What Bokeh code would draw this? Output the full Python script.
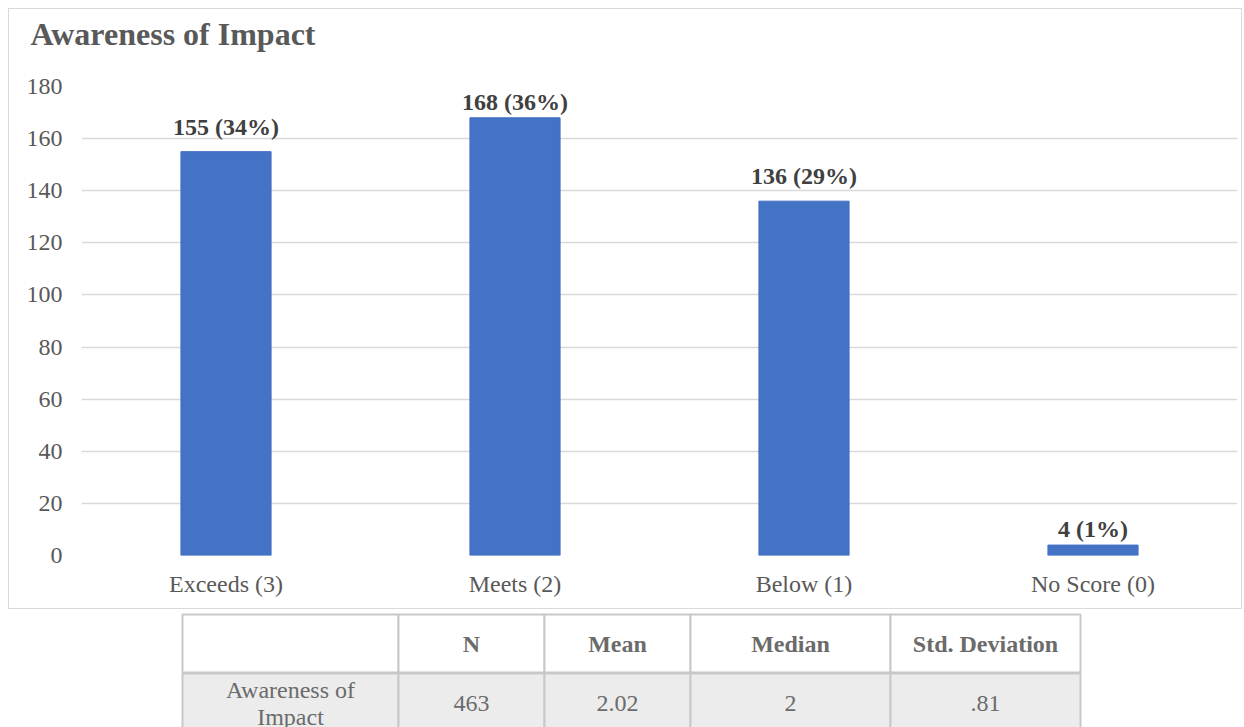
from bokeh.plotting import figure
from bokeh.layouts import column
from bokeh.models import Range1d, FactorRange, FixedTicker, ColumnDataSource, Title
from bokeh.core.properties import value
from bokeh.embed import file_html
from bokeh.resources import INLINE

# --- data -------------------------------------------------------------
categories = ["Exceeds (3)", "Meets (2)", "Below (1)", "No Score (0)"]
counts = [155, 168, 136, 4]
percents = [34, 36, 29, 1]
y_ticks = [0, 20, 40, 60, 80, 100, 120, 140, 160, 180]

stat_headers = ["", "N", "Mean", "Median", "Std. Deviation"]
stat_values = ["Awareness of\nImpact", "463", "2.02", "2", ".81"]

# --- styling ------------------------------------------------------------
SERIF = "Liberation Serif"
BAR_BLUE = "#4472C4"
AXIS_TEXT = "#595959"
LABEL_TEXT = "#404040"
GRID = "#d9d9d9"
TABLE_TEXT = "#6b6b6b"
TABLE_LINE = "#c8c8c8"
label_lift = [-12, -3, -12, -3]   # pixel gap between bar top and its label

# --- bar chart ----------------------------------------------------------
src = ColumnDataSource(dict(
    cat=categories,
    count=counts,
    label=[f"{c} ({p}%)" for c, p in zip(counts, percents)],
    lift=label_lift,
))

p = figure(
    x_range=FactorRange(*categories),
    y_range=Range1d(0, 180),
    width=1234, height=601,
    output_backend="svg", toolbar_location=None,
    min_border_left=72, min_border_right=6, min_border_top=77, min_border_bottom=55,
    margin=(8, 0, 0, 8),
    styles={"border": "1px solid #d9d9d9"},
)
p.outline_line_color = None
p.background_fill_color = "white"
p.border_fill_color = "white"

# an empty spacer title keeps the heading clear of the plot area
p.add_layout(Title(text=" ", text_font_size="1px", standoff=32), "above")
p.title.text = "Awareness of Impact"
p.title.text_font = SERIF
p.title.text_font_size = "32px"
p.title.text_font_style = "bold"
p.title.text_color = AXIS_TEXT
p.title.align = "left"
p.title.offset = -51
p.title.standoff = 0

p.vbar(x="cat", top="count", width=0.312, source=src,
       fill_color=BAR_BLUE, line_color=BAR_BLUE)
p.text(x="cat", y="count", text="label", source=src,
       text_align="center", text_baseline="bottom", y_offset="lift",
       text_font=value(SERIF), text_font_size="24px", text_font_style="bold",
       text_color=LABEL_TEXT)

p.xgrid.visible = False
p.ygrid.ticker = FixedTicker(ticks=y_ticks)
p.ygrid.grid_line_color = GRID
p.ygrid.grid_line_width = 1.5

p.yaxis.ticker = FixedTicker(ticks=y_ticks)
for ax in (p.xaxis[0], p.yaxis[0]):
    ax.axis_line_color = None
    ax.major_tick_line_color = None
    ax.minor_tick_line_color = None
    ax.major_tick_out = 0
    ax.major_tick_in = 0
    ax.major_label_text_font = SERIF
    ax.major_label_text_font_size = "24px"
    ax.major_label_text_color = AXIS_TEXT
p.yaxis.major_label_standoff = 19
p.xaxis.major_label_standoff = 15

# --- statistics table ----------------------------------------------------
# the column layout lines this frame up with the chart's frame borders,
# so the x range is expressed in page pixels over that frame
col_edges = [182, 398, 544, 690, 890, 1080]
lefts, rights = col_edges[:-1], col_edges[1:]
centers = [(a + b) / 2 for a, b in zip(lefts, rights)]

t = figure(
    width=1244, height=117,
    x_range=Range1d(72, 1238), y_range=Range1d(117, 0),
    x_axis_location=None, y_axis_location=None,
    output_backend="svg", toolbar_location=None,
    min_border_left=72, min_border_right=6, min_border_top=0, min_border_bottom=0,
    margin=(1, 0, 0, 0),
)
t.grid.visible = False
t.outline_line_color = None
t.background_fill_color = "white"
t.border_fill_color = "white"

t.quad(left=lefts, right=rights, top=4, bottom=62,
       fill_color="white", line_color=TABLE_LINE, line_width=2)
t.quad(left=lefts, right=rights, top=63, bottom=140,
       fill_color="#ececec", line_color=TABLE_LINE, line_width=2)

t.text(x=centers, y=[33] * 5, text=stat_headers,
       text_align="center", text_baseline="middle",
       text_font=value(SERIF), text_font_size="24px", text_font_style="bold",
       text_color=TABLE_TEXT)
t.text(x=centers, y=[93] * 5, text=stat_values,
       text_align="center", text_baseline="middle", text_line_height=1.05,
       text_font=value(SERIF), text_font_size="24px",
       text_color=TABLE_TEXT)

layout = column(p, t, spacing=0)
open("out.html", "w").write(file_html(layout, INLINE))
